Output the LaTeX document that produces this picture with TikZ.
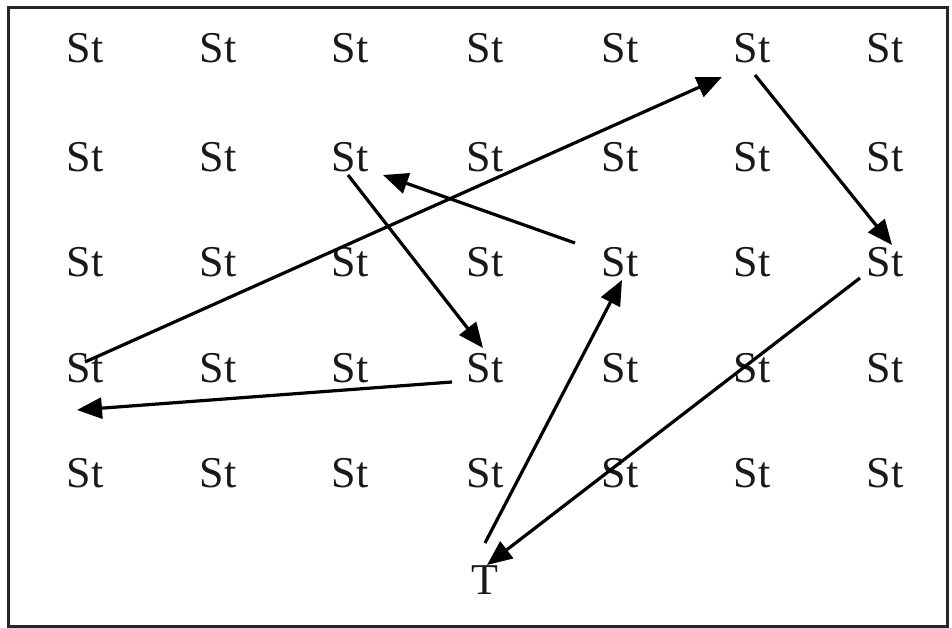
\documentclass[tikz,border=0pt]{standalone}
\usepackage{fontspec}
\setmainfont{Liberation Serif}
\usetikzlibrary{arrows.meta,calc}
\begin{document}
\begin{tikzpicture}[x=1pt,y=-1pt,
  lbl/.style={inner sep=0pt,font=\fontsize{44}{46}\selectfont,text=black!90},
  conn/.style={line width=3.2pt,-{Triangle[length=25pt,width=21pt]}}]
\useasboundingbox (0,0) rectangle (952,628);
\draw[line width=3pt,black!85] (8,8) rectangle (947,626);
\foreach \r/\y in {1/48,2/157,3/262,4/368,5/473}{
  \foreach \c/\x in {1/85,2/218,3/350,4/485,5/620,6/752,7/885}{
    \node[lbl] (s\r\c) at (\x,\y) {St};
  }
}
\node[lbl] (t) at (485,580) {T};
\draw[conn] ($(t)+(0,-37)$) -- ($(s35)+(2,18)$);
\draw[conn] ($(s35)+(-45,-19)$) -- ($(s23)+(33,18)$);
\draw[conn] ($(s23)+(-2,18)$) -- ($(s44)+(-2,-20)$);
\draw[conn] ($(s44)+(-33,14)$) -- ($(s41)+(-8,42)$);
\draw[conn] ($(s41)+(0,-6)$) -- ($(s16)+(-30,29)$);
\draw[conn] ($(s16)+(3,27)$) -- ($(s37)+(7,-17)$);
\draw[conn] ($(s37)+(-25,16)$) -- ($(t)+(2,-15)$);
\end{tikzpicture}
\end{document}
